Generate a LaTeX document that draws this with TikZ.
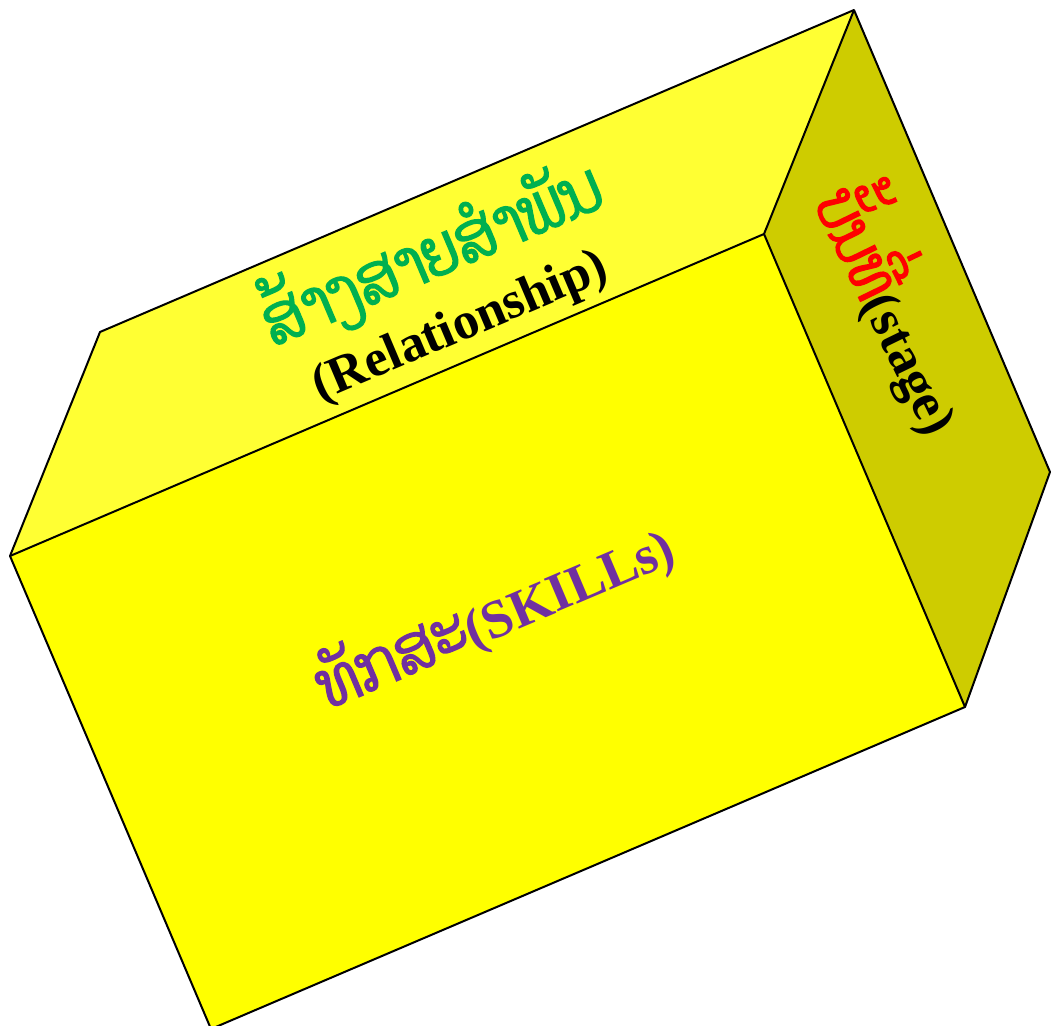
\documentclass[tikz,border=0pt]{standalone}
\usepackage{fontspec}
\setmainfont{Liberation Serif}
\newfontfamily\laofont[Script=Lao, FakeBold=2, FakeStretch=0.85]{Dhyana}
\definecolor{topface}{HTML}{FFFF33}
\definecolor{frontface}{HTML}{FFFF00}
\definecolor{sideface}{HTML}{CECC00}
\definecolor{laogreen}{HTML}{00B050}
\definecolor{skillpurple}{HTML}{7030A0}
\definecolor{stagered}{HTML}{FF0000}
\tikzset{
  face/.style={draw=black, line width=2pt, line join=round},
  boxtext/.style={inner sep=0pt, font=\bfseries},
}
\begin{document}
\begin{tikzpicture}[x=1pt, y=-1pt]
\useasboundingbox (0,0) rectangle (1051,1025);
\begin{scope}
\clip (0,0) rectangle (1051,1025);
\coordinate (ftl) at (10,556);
\coordinate (ftr) at (764,234);
\coordinate (fbr) at (965,707);
\coordinate (fbl) at (211,1029);
\coordinate (btl) at (100,332);
\coordinate (btr) at (854,10);
\coordinate (bbr) at (1050,472);
\fill[topface] (ftl) -- (btl) -- (btr) -- (ftr) -- cycle;
\fill[frontface] (ftl) -- (ftr) -- (fbr) -- (fbl) -- cycle;
\fill[sideface] (ftr) -- (btr) -- (bbr) -- (fbr) -- cycle;
\draw[face] (ftl) -- (btl) -- (btr) -- (bbr) -- (fbr) -- (fbl) -- cycle;
\draw[face] (ftl) -- (ftr) -- (fbr);
\draw[face] (ftr) -- (btr);
\end{scope}
\node[boxtext, rotate=23, text=laogreen, font=\laofont\fontsize{68}{72}\selectfont] (rel) at (430,252) {ສ້າງສາຍສຳພັນ};
\node[boxtext, rotate=23, font=\bfseries\fontsize{52}{60}\selectfont] (relen) at (461,328) {(Relationship)};
\node[boxtext, rotate=-64, font=\bfseries\fontsize{53}{58}\selectfont] (stage) at (900,306) {{\laofont\mdseries\fontsize{64}{70}\selectfont\color{stagered}ບັ້ນທີ່}(stage)};
\node[boxtext, rotate=23, text=skillpurple, font=\bfseries\fontsize{54}{60}\selectfont] (skills) at (494,614) {{\laofont\mdseries\fontsize{66}{70}\selectfont ທັກສະ}(SKILLs)};
\end{tikzpicture}
\end{document}
